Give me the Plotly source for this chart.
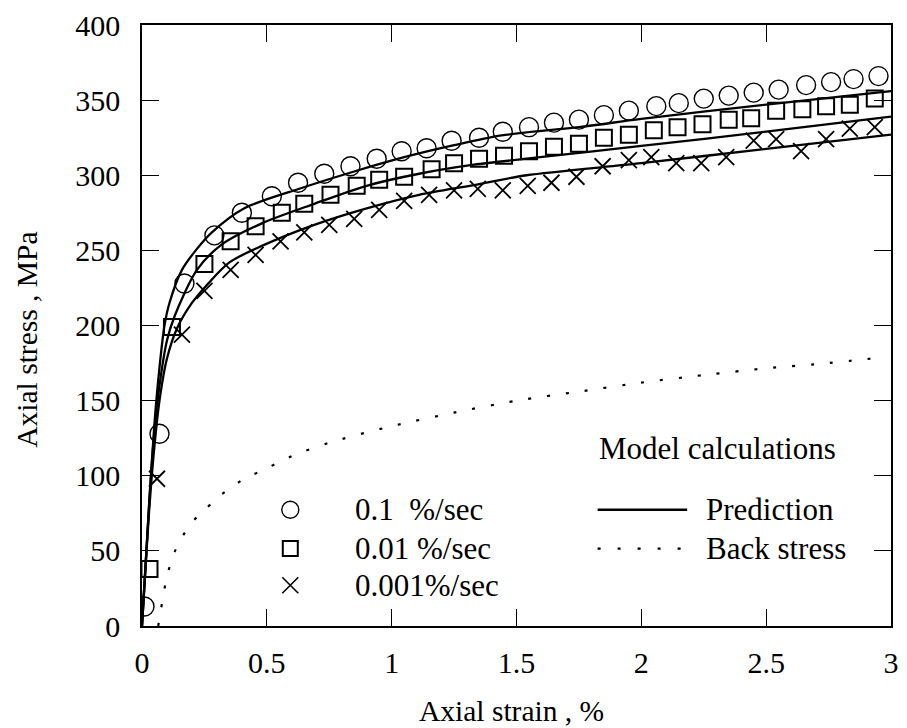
import plotly.graph_objects as go

# ---- experimental data (strain %, stress MPa) ----
strain_r1 = [0.01, 0.07, 0.17, 0.29, 0.40, 0.52, 0.625, 0.73, 0.835, 0.94, 1.04, 1.14, 1.24, 1.35, 1.445,
             1.55, 1.65, 1.75, 1.85, 1.95, 2.06, 2.15, 2.25, 2.35, 2.45, 2.55, 2.66, 2.76, 2.85, 2.95]
stress_r1 = [13, 128, 228, 260, 275, 286, 295, 301, 306, 311, 316, 318, 323, 325, 329,
             332, 335, 337, 340, 343, 346, 348, 351, 353, 355, 357, 360, 362, 364, 366]

strain_r2 = [0.03, 0.12, 0.25, 0.355, 0.455, 0.56, 0.65, 0.755, 0.86, 0.95, 1.05, 1.16, 1.25, 1.35, 1.45,
             1.55, 1.65, 1.75, 1.85, 1.95, 2.05, 2.145, 2.245, 2.35, 2.44, 2.54, 2.645, 2.74, 2.835, 2.935]
stress_r2 = [38, 199, 241, 256, 266, 275, 281, 287, 293, 297, 299, 304, 308, 311, 313,
             316, 319, 321, 325, 327, 330, 332, 334, 337, 338, 343, 344, 346, 347, 351]

strain_r3 = [0.06, 0.16, 0.25, 0.355, 0.455, 0.555, 0.65, 0.75, 0.85, 0.95, 1.05, 1.15, 1.25, 1.345, 1.445,
             1.545, 1.64, 1.74, 1.845, 1.95, 2.04, 2.14, 2.24, 2.34, 2.45, 2.54, 2.64, 2.74, 2.835, 2.935]
stress_r3 = [98, 194, 223, 237, 247, 256, 262, 267, 271, 277, 283, 287, 290, 291, 290,
             293, 295, 299, 306, 310, 312, 308, 308, 312, 323, 324, 316, 324, 331, 332]

# ---- model predictions ----
pred1_x = [0, 0.03, 0.05, 0.07, 0.09, 0.11, 0.16, 0.22, 0.28, 0.41, 0.63, 0.84, 1.05, 1.25, 1.44, 1.75, 2.0, 2.5, 3.0]
pred1_y = [0, 85, 135, 172, 200, 215, 237, 251, 262, 278, 291, 302, 312, 320, 326.5, 332, 337.5, 347, 356]

pred2_x = [0, 0.03, 0.05, 0.07, 0.10, 0.13, 0.22, 0.32, 0.48, 0.69, 0.90, 1.11, 1.33, 1.54, 2.0, 2.5, 3.0]
pred2_y = [0, 85, 130, 160, 190, 206, 237, 254, 268, 281, 293, 301, 307, 311, 319.5, 329, 339]

pred3_x = [0, 0.03, 0.05, 0.07, 0.10, 0.14, 0.20, 0.26, 0.35, 0.48, 0.69, 0.90, 1.11, 1.33, 1.54, 2.0, 2.5, 3.0]
pred3_y = [0, 80, 120, 150, 178, 198, 215, 227, 242, 253, 267, 278, 287, 293.5, 300, 308, 317.6, 327]

back_x = [0.065, 0.08, 0.10, 0.13, 0.16, 0.20, 0.25, 0.30, 0.40, 0.50, 0.60, 0.75, 1.0, 1.25, 1.5,
          1.75, 2.0, 2.25, 2.5, 2.75, 2.95]
back_y = [0, 15, 33, 49, 59, 69, 77, 85, 97, 105, 113, 122, 133, 142, 150,
          156, 162, 167, 171.5, 175, 178.5]

x_ticks = [0, 0.5, 1, 1.5, 2, 2.5, 3]
x_tick_text = ["0", "0.5", "1", "1.5", "2", "2.5", "3"]
y_ticks = [0, 50, 100, 150, 200, 250, 300, 350, 400]

rate_labels = ["0.1\u00a0 %/sec", "0.01 %/sec", "0.001%/sec"]
model_title = "Model calculations"
model_labels = ["Prediction", "Back stress"]

FONT = "Liberation Serif, Times New Roman, serif"
FS_TICK = 30
FS_LEG = 31
FS_TITLE = 29.5
BLACK = "#000000"

fig = go.Figure()

for px, py in [(pred1_x, pred1_y), (pred2_x, pred2_y), (pred3_x, pred3_y)]:
    fig.add_trace(go.Scatter(x=px, y=py, mode="lines",
                             line=dict(color=BLACK, width=2.3, shape="spline", smoothing=0.8),
                             showlegend=False, hoverinfo="skip"))

fig.add_trace(go.Scatter(x=back_x, y=back_y, mode="lines",
                         line=dict(color=BLACK, width=2.2, dash="3px,16px", shape="spline", smoothing=0.8),
                         showlegend=False, hoverinfo="skip"))

fig.add_trace(go.Scatter(x=strain_r1, y=stress_r1, mode="markers",
                         marker=dict(symbol="circle-open", size=19, color=BLACK, line=dict(width=1.4, color=BLACK)),
                         showlegend=False))
fig.add_trace(go.Scatter(x=strain_r2, y=stress_r2, mode="markers",
                         marker=dict(symbol="square-open", size=16, color=BLACK, line=dict(width=2, color=BLACK)),
                         showlegend=False))
fig.add_trace(go.Scatter(x=strain_r3, y=stress_r3, mode="markers",
                         marker=dict(symbol="x-thin-open", size=16, color=BLACK, line=dict(width=1.8, color=BLACK)),
                         showlegend=False))

# ---- legend drawn manually (paper-fraction overlay axes) ----
leg_mx = 0.198
leg_my = [0.1934, 0.1289, 0.0678]
leg_syms = [("circle-open", 17, 1.4), ("square-open", 15, 2), ("x-thin-open", 16, 1.6)]
for (sym, sz, lw), yy in zip(leg_syms, leg_my):
    fig.add_trace(go.Scatter(x=[leg_mx], y=[yy], xaxis="x2", yaxis="y2", mode="markers",
                             marker=dict(symbol=sym, size=sz, color=BLACK, line=dict(width=lw, color=BLACK)),
                             showlegend=False, hoverinfo="skip"))

annotations = []
for lab, yy in zip(rate_labels, leg_my):
    annotations.append(dict(x=0.2814, y=yy, xref="paper", yref="paper", text=lab, showarrow=False,
                            xanchor="left", yanchor="middle", font=dict(family=FONT, size=FS_LEG, color=BLACK)))
annotations.append(dict(x=0.607, y=0.2959, xref="paper", yref="paper", text=model_title, showarrow=False,
                        xanchor="left", yanchor="middle", font=dict(family=FONT, size=FS_LEG, color=BLACK)))
for lab, yy in zip(model_labels, [0.1934, 0.1289]):
    annotations.append(dict(x=0.751, y=yy, xref="paper", yref="paper", text=lab, showarrow=False,
                            xanchor="left", yanchor="middle", font=dict(family=FONT, size=FS_LEG, color=BLACK)))
# axis titles
annotations.append(dict(x=0.493, y=-0.141, xref="paper", yref="paper", text="Axial strain , %", showarrow=False,
                        xanchor="center", yanchor="middle", font=dict(family=FONT, size=FS_TITLE, color=BLACK)))
annotations.append(dict(x=-0.153, y=0.477, xref="paper", yref="paper", text="Axial stress , MPa", showarrow=False,
                        xanchor="center", yanchor="middle", textangle=-90,
                        font=dict(family=FONT, size=FS_TITLE, color=BLACK)))

shapes = [
    dict(type="line", xref="paper", yref="paper", x0=0.6083, x1=0.7279, y0=0.1934, y1=0.1934,
         line=dict(color=BLACK, width=2.3)),
    dict(type="line", xref="paper", yref="paper", x0=0.6083, x1=0.7279, y0=0.1289, y1=0.1289,
         line=dict(color=BLACK, width=2.2, dash="3px,17px")),
]

axis_common = dict(showgrid=False, zeroline=False, showline=True, linecolor=BLACK, linewidth=1.6,
                   mirror="ticks", ticks="inside", ticklen=17, tickwidth=1.3, tickcolor=BLACK,
                   tickfont=dict(family=FONT, size=FS_TICK, color=BLACK))

fig.update_layout(
    width=907, height=728,
    margin=dict(l=142, r=8, t=21, b=102),
    paper_bgcolor="white", plot_bgcolor="white",
    xaxis=dict(range=[0, 3], tickvals=x_ticks, ticktext=x_tick_text, ticklabelstandoff=9, **axis_common),
    yaxis=dict(range=[0, 400], tickvals=y_ticks, ticklabelstandoff=14, **axis_common),
    xaxis2=dict(range=[0, 1], overlaying="x", visible=False, fixedrange=True),
    yaxis2=dict(range=[0, 1], overlaying="y", visible=False, fixedrange=True),
    annotations=annotations,
    shapes=shapes,
    showlegend=False,
)

fig.write_html("out.html",
               config={"displayModeBar": False},
               post_script="document.body.style.margin='0';document.body.style.padding='0';"
                           "document.body.style.overflow='hidden';")
